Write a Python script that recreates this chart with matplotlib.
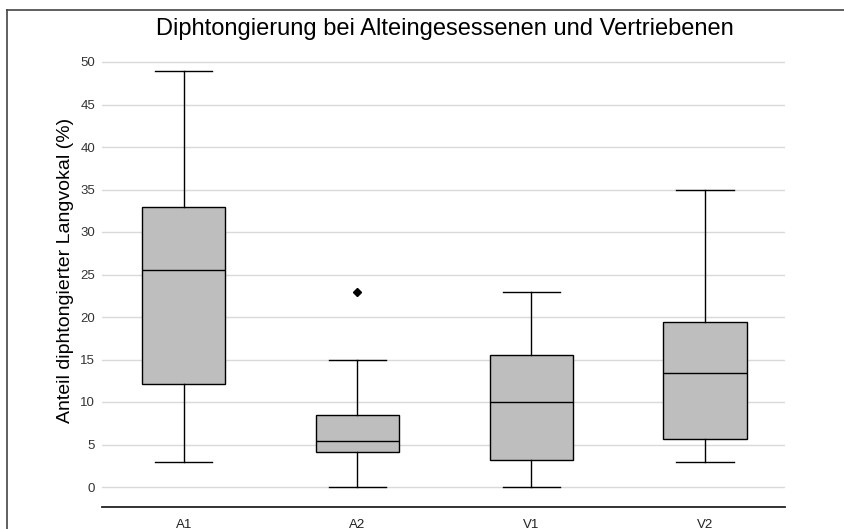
import matplotlib
matplotlib.use("Agg")
import matplotlib.pyplot as plt
from matplotlib.lines import Line2D

plt.rcParams['font.family'] = ['Liberation Sans', 'DejaVu Sans']

categories = ["A1", "A2", "V1", "V2"]
whisker_low = [3, 0, 0, 3]
q1 = [12.1, 4.1, 3.2, 5.6]
median = [25.5, 5.4, 10.0, 13.4]
q3 = [33.0, 8.5, 15.5, 19.4]
whisker_high = [49.0, 15.0, 23.0, 35.0]
outliers = [[], [23.0], [], []]
yticks = [0, 5, 10, 15, 20, 25, 30, 35, 40, 45, 50]

title = "Diphtongierung bei Alteingesessenen und Vertriebenen"
ylabel = "Anteil diphtongierter Langvokal (%)"

fig = plt.figure(figsize=(8.44, 5.29), dpi=100)
ax = fig.add_axes([0.1, 0.1, 0.8, 0.8])

# y=0 at 487 px, y=50 at 62 px -> 8.5 px/unit; axis line at 507 px
bottom_val = -(507 - 487) / 8.5
ax_top_px = 50
ax.set_position([102/844, 1 - 507/529, (785-102)/844, (507 - ax_top_px)/529])
top_val = 50 + (62 - ax_top_px) / 8.5
ax.set_ylim(bottom_val, top_val)

stats = []
for i, c in enumerate(categories):
    stats.append(dict(label=c, whislo=whisker_low[i], q1=q1[i], med=median[i],
                      q3=q3[i], whishi=whisker_high[i], fliers=outliers[i]))

ax.bxp(stats, positions=range(1, len(categories)+1), widths=0.48, capwidths=0.33,
       patch_artist=True, showfliers=True,
       boxprops=dict(facecolor="#bebebe", edgecolor="black", linewidth=1.0),
       medianprops=dict(color="black", linewidth=1.0),
       whiskerprops=dict(color="black", linewidth=1.0),
       capprops=dict(color="black", linewidth=1.0),
       flierprops=dict(marker="D", markersize=4.5, markerfacecolor="black",
                       markeredgecolor="black"))

ax.set_xlim(0.53, 4.46)
ax.set_yticks(yticks)
ax.set_yticklabels([str(t) for t in yticks], fontsize=9.5, color="#333333")
ax.yaxis.grid(True, color="#d9d9d9", linewidth=1.0)
ax.set_axisbelow(True)
ax.tick_params(axis="both", length=0)
ax.tick_params(axis="y", pad=5)
ax.tick_params(axis="x", pad=8.5, labelsize=9.5, labelcolor="#222222")
for s in ["left", "right", "top"]:
    ax.spines[s].set_visible(False)
ax.spines["bottom"].set_color("#222222")
ax.spines["bottom"].set_linewidth(1.3)
ax.set_ylabel(ylabel, fontsize=14, va="center")
ax.yaxis.set_label_coords((66 - 102) / 683, (507 - 270) / 457)
fig.text(445/844, 1 - 29/529, title, ha="center", va="center", fontsize=17)

# outer frame
fig.add_artist(Line2D([7/844, 7/844], [0, 1 - 10/529], transform=fig.transFigure,
                      color="#444444", linewidth=1.2))
fig.add_artist(Line2D([7/844, 1], [1 - 10/529, 1 - 10/529], transform=fig.transFigure,
                      color="#444444", linewidth=1.2))

fig.savefig("out.png", dpi=100)
